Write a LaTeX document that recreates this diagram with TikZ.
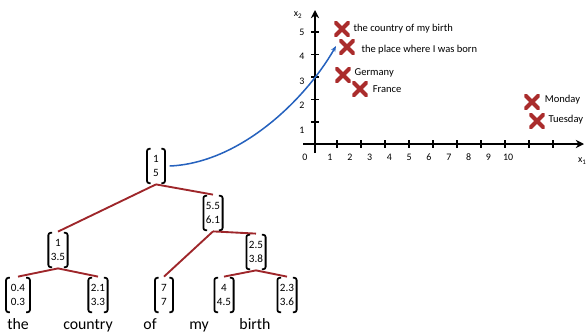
\documentclass[tikz,border=0pt]{standalone}
\usepackage{fontspec}
\setmainfont{Carlito}
\usepackage{xcolor}
\usetikzlibrary{arrows.meta,positioning}

\definecolor{treered}{RGB}{158,38,42}
\definecolor{crossred}{RGB}{170,44,44}
\definecolor{curveblue}{RGB}{38,98,190}

\begin{document}
\begin{tikzpicture}[
    x=0.03cm, y=-0.03cm,
    bracket/.style={line width=1.5pt, rounded corners=2pt},
    vec/.style={align=center, font=\fontsize{9.5}{11.5}\selectfont, inner xsep=3pt, inner ysep=1pt,
        minimum width=17pt, minimum height=31pt,
        path picture={
            \draw[bracket] ([xshift=4pt,yshift=-.8pt]path picture bounding box.north west) -- ([xshift=.8pt,yshift=-.8pt]path picture bounding box.north west)
                -- ([xshift=.8pt,yshift=.8pt]path picture bounding box.south west) -- ([xshift=4pt,yshift=.8pt]path picture bounding box.south west);
            \draw[bracket] ([xshift=-4pt,yshift=-.8pt]path picture bounding box.north east) -- ([xshift=-.8pt,yshift=-.8pt]path picture bounding box.north east)
                -- ([xshift=-.8pt,yshift=.8pt]path picture bounding box.south east) -- ([xshift=-4pt,yshift=.8pt]path picture bounding box.south east);
        }},
    word/.style={anchor=base, font=\fontsize{13.5}{15}\selectfont},
    edge/.style={treered, line width=1.6pt},
    axis/.style={line width=1.3pt, -{Stealth[length=7pt,width=7pt]}},
    tick/.style={line width=1.3pt},
    num/.style={font=\fontsize{8.5}{10}\selectfont},
    cross/.style={minimum size=13pt, inner sep=0pt,
        path picture={
            \draw[crossred, line width=3.4pt] (path picture bounding box.north west) -- (path picture bounding box.south east)
                (path picture bounding box.north east) -- (path picture bounding box.south west);
        }},
    lbl/.style={anchor=west, font=\fontsize{9}{10}\selectfont, inner sep=0pt}
]
    \useasboundingbox (0,0) rectangle (588,334);

    % tree of vectors
    \node[vec] (root) at (156,166) {1\\5};
    \node[vec] (n1) at (58,250) {1\\3.5};
    \node[vec] (n2) at (213,213) {5.5\\6.1};
    \node[vec] (n3) at (256,252) {2.5\\3.8};
    \node[vec, minimum width=22pt] (the) at (18,295) {0.4\\0.3};
    \node[vec] (country) at (98,295) {2.1\\3.3};
    \node[vec] (of) at (164,295) {7\\7};
    \node[vec] (my) at (224,295) {4\\4.5};
    \node[vec] (birth) at (287,295) {2.3\\3.6};

    \node[word] (wthe) at (18,329) {the};
    \node[word] (wcountry) at (88,329) {country};
    \node[word] (wof) at (150,329) {of};
    \node[word] (wmy) at (199,329) {my};
    \node[word] (wbirth) at (255,329) {birth};

    \draw[edge] (root.south) -- (n1.north);
    \draw[edge] (root.south) -- (n2.north);
    \draw[edge] (n1.south) -- (the.north);
    \draw[edge] (n1.south) -- (country.north);
    \draw[edge] (n2.south) -- (of.north);
    \draw[edge] (n2.south) -- (n3.north);
    \draw[edge] (n3.south) -- (my.north);
    \draw[edge] (n3.south) -- (birth.north);

    % axes
    \draw[axis] (303,144) -- (584,144);
    \draw[axis] (315,153) -- (315,10);
    \foreach \i in {0,...,9}
        \draw[tick] ({337+24*\i},140) -- ({337+24*\i},148);
    \foreach \j in {0,...,4}
        \draw[tick] (311,{122-22.5*\j}) -- (319,{122-22.5*\j});
    \node[num] (zero) at (305,157) {0};
    \foreach \i in {1,...,10}
        \node[num] (xl\i) at ({330+19.8*(\i-1)},157) {\i};
    \foreach \j in {1,...,5}
        \node[num] (yl\j) at (302,{130-24.5*(\j-1)}) {\j};
    \node[num] (xtwo) at (298,15) {x\textsubscript{2}};
    \node[num, anchor=east, inner xsep=1pt] (xone) at (588,161) {x\textsubscript{1}};

    % points
    \node[cross] (c1) at (342,29) {};
    \node[cross] (c2) at (347,47) {};
    \node[cross] (c3) at (343,75) {};
    \node[cross] (c4) at (360,89) {};
    \node[cross] (c5) at (532,102) {};
    \node[cross] (c6) at (537,121) {};
    \node[lbl, right=3pt of c1] (l1) {the country of my birth};
    \node[lbl, right=5.5pt of c2, yshift=-2pt] (l2) {the place where I was born};
    \node[lbl, right=3pt of c3, yshift=1.5pt] (l3) {Germany};
    \node[lbl, right=4pt of c4] (l4) {France};
    \node[lbl, right=4pt of c5, yshift=2pt] (l5) {Monday};
    \node[lbl, right=3pt of c6, yshift=1.5pt] (l6) {Tuesday};

    % mapping
    \coordinate (tip) at (336,46);
    \draw[curveblue, line width=1.3pt, -{Stealth[length=5pt,width=4pt]}]
        ([xshift=3pt]root.east) .. controls (240,163) and (305,100) .. (tip);
\end{tikzpicture}
\end{document}
